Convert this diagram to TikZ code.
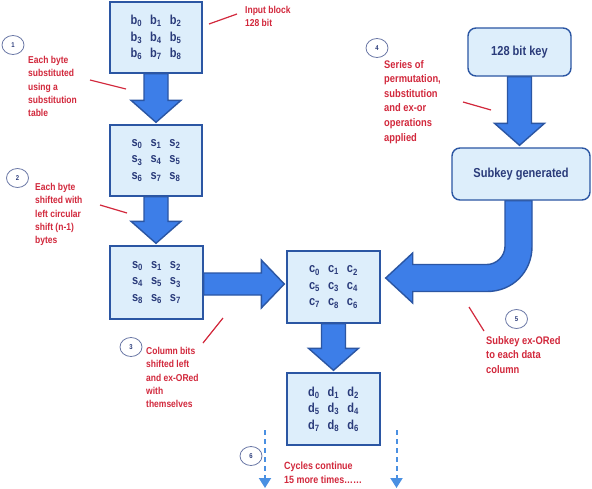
\documentclass[tikz,border=0pt]{standalone}
\usepackage{fontspec}
\setmainfont{Liberation Sans}
\newfontfamily\narrowfont{Liberation Sans}[FakeStretch=0.85]
\usepackage{tikz}
\usetikzlibrary{calc,arrows.meta,backgrounds,shapes.geometric}

\definecolor{boxfill}{HTML}{DDEEFB}
\definecolor{boxline}{HTML}{2B56A3}
\definecolor{navy}{HTML}{2A3B7A}
\definecolor{arrowfill}{HTML}{3D7EE8}
\definecolor{notered}{HTML}{D2283C}
\definecolor{dashblue}{HTML}{4A90E2}
\definecolor{ringline}{HTML}{6B78A6}

\newcommand{\el}[2]{#1\textsubscript{#2}}
\newcommand{\trio}[4]{\el{#1}{#2}\hspace{8pt}\el{#1}{#3}\hspace{8pt}\el{#1}{#4}}
\newcommand{\blockdown}[2]{%
  \coordinate (#1tip) at (#1.south |- #2.north);
  \draw [bigarrow] ($(#1.south)+(-12,0)$) -- ($(#1tip)+(-12,-24)$)
    -- ($(#1tip)+(-25,-24)$) -- ($(#1tip)+(0,-2)$)
    -- ($(#1tip)+(25,-24)$) -- ($(#1tip)+(12,-24)$)
    -- ($(#1.south)+(12,0)$) -- cycle;}

\begin{document}
\begin{tikzpicture}[x=1pt,y=-1pt,
  databox/.style={draw=boxline, fill=boxfill, line width=1.4pt, minimum width=92pt,
    minimum height=71pt, inner sep=0pt, align=center, text=navy,
    font=\narrowfont\bfseries\fontsize{13}{16.5}\selectfont},
  keybox/.style={draw=boxline, fill=boxfill, line width=1.4pt, rounded corners=8pt,
    inner sep=0pt, text=navy, font=\narrowfont\bfseries\fontsize{13}{15}\selectfont},
  bigarrow/.style={draw=boxline, fill=arrowfill, line width=1.4pt, line join=miter},
  redtext/.style={anchor=north west, inner sep=0pt, align=left, text=notered,
    font=\narrowfont\bfseries\fontsize{10}{13.3}\selectfont},
  bigred/.style={redtext, font=\narrowfont\bfseries\fontsize{11}{14.6}\selectfont},
  pointer/.style={notered, line width=1.2pt},
  numring/.style={ellipse, draw=ringline, fill=white, line width=0.8pt, minimum width=22pt,
    minimum height=19pt, inner sep=0pt, text=navy,
    font=\narrowfont\bfseries\fontsize{7}{8}\selectfont},
  cycledash/.style={dashblue, line width=2pt, dash pattern=on 5pt off 4pt,
    -{Triangle[width=12pt,length=10pt]}}]
\useasboundingbox (0,0) rectangle (592,488);

\node [databox] (b) at (156,37.5) {\trio{b}{0}{1}{2}\\\trio{b}{3}{4}{5}\\\trio{b}{6}{7}{8}};
\node [databox] (s1) at (156,160.5) {\trio{s}{0}{1}{2}\\\trio{s}{3}{4}{5}\\\trio{s}{6}{7}{8}};
\node [databox, minimum width=93pt, minimum height=73pt] (s2) at (156.5,282.5)
  {\trio{s}{0}{1}{2}\\\trio{s}{4}{5}{3}\\\trio{s}{8}{6}{7}};
\node [databox, minimum width=93pt, minimum height=72pt] (c) at (333.5,287)
  {\trio{c}{0}{1}{2}\\\trio{c}{5}{3}{4}\\\trio{c}{7}{8}{6}};
\node [databox, minimum width=93pt, minimum height=72pt] (d) at (333.5,409)
  {\trio{d}{0}{1}{2}\\\trio{d}{5}{3}{4}\\\trio{d}{7}{8}{6}};
\node [keybox, minimum width=103pt, minimum height=48pt] (key) at (519.5,52) {128 bit key};
\node [keybox, minimum width=138pt, minimum height=52pt] (sub) at (521,174) {Subkey generated};

\begin{scope}[on background layer]
\fill [white] (0,0) rectangle (592,488);
\blockdown{b}{s1}
\blockdown{s1}{s2}
\blockdown{c}{d}
\blockdown{key}{sub}
\coordinate (hs) at ($(s2.east |- c.west)+(0,-3)$);
\coordinate (htip) at ($(c.west)+(-2,-3)$);
\draw [bigarrow] ($(hs)+(0,-11)$) -- ($(htip)+(-23,-11)$) -- ($(htip)+(-23,-24)$) -- (htip)
  -- ($(htip)+(-23,24)$) -- ($(htip)+(-23,11)$) -- ($(hs)+(0,11)$) -- cycle;
\coordinate (kx) at ($(sub.south)+(-2.5,0)$);
\coordinate (ctip) at ($(c.east)+(5,-9)$);
\coordinate (bend) at (kx |- ctip);
\draw [bigarrow] ($(kx)+(13.5,0)$) -- ($(bend)+(13.5,-31.5)$)
  .. controls ($(bend)+(13.5,-6)$) and ($(bend)+(-6,13.5)$) .. ($(bend)+(-31.5,13.5)$)
  -- ($(ctip)+(27,13.5)$) -- ($(ctip)+(27,25)$) -- (ctip) -- ($(ctip)+(27,-25)$)
  -- ($(ctip)+(27,-13.5)$) -- ($(bend)+(-31.5,-13.5)$)
  .. controls ($(bend)+(-22,-13.5)$) and ($(bend)+(-13.5,-22)$) .. ($(bend)+(-13.5,-31.5)$)
  -- ($(kx)+(-13.5,0)$) -- cycle;
\end{scope}

\node [redtext] (inblk) at (245,6) {Input block\\128 bit};
\draw [pointer] (209,24) -- (237,14);

\node [numring] (n1) at (13,45) {1};
\node [redtext] (t1) at (28,56) {Each byte\\substituted\\using a\\substitution\\table};
\draw [pointer] (90,80) -- (126,89);

\node [numring] (n2) at (17.5,178) {2};
\node [redtext] (t2) at (35,183) {Each byte\\shifted with\\left circular\\shift (n-1)\\bytes};
\draw [pointer] (100,205) -- (127,213);

\node [numring] (n3) at (131,347) {3};
\node [redtext] (t3) at (146,347) {Column bits\\shifted left\\and ex-ORed\\with\\themselves};
\draw [pointer] (203,343) -- (223,318);

\node [numring] (n4) at (377,48) {4};
\node [bigred] (t4) at (384,60) {Series of\\permutation,\\substitution\\and ex-or\\operations\\applied};
\draw [pointer] (463,102) -- (491,110);

\node [numring] (n5) at (516.5,319) {5};
\node [bigred] (t5) at (486,336) {Subkey ex-ORed\\to each data\\column};
\draw [pointer] (469,307) -- (484,331);

\node [numring] (n6) at (251,456) {6};
\node [redtext, font=\narrowfont\bfseries\fontsize{10.5}{14}\selectfont] (t6) at (284,462)
  {Cycles continue\\15 more times……};
\coordinate (cyl1) at (265,430);
\coordinate (cyl2) at (265,488);
\coordinate (cyr1) at (396.5,430);
\coordinate (cyr2) at (396.5,488);
\draw [cycledash] (cyl1) -- (cyl2);
\draw [cycledash] (cyr1) -- (cyr2);
\end{tikzpicture}
\end{document}
